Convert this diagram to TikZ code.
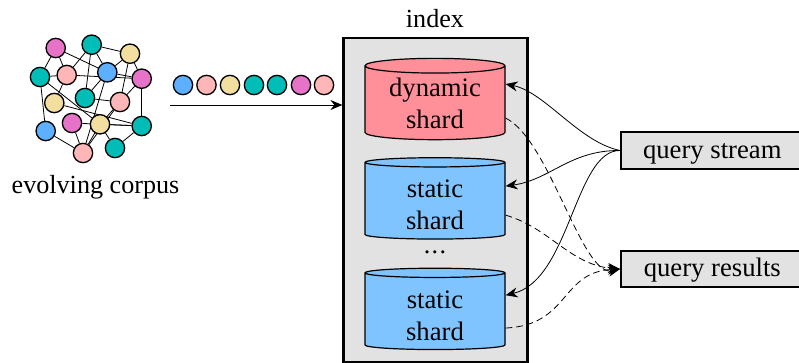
\documentclass[tikz,border=0pt]{standalone}
\usepackage{fontspec}
\setmainfont{Liberation Serif}
\usetikzlibrary{arrows.meta,shapes.geometric,backgrounds}
\definecolor{dotblue}{HTML}{5CB0FF}
\definecolor{dotrose}{HTML}{FFB6B6}
\definecolor{dotyellow}{HTML}{F2DFA0}
\definecolor{dotteal}{HTML}{00BDB8}
\definecolor{dotpink}{HTML}{E673C8}
\definecolor{shardred}{HTML}{FF909A}
\definecolor{shardblue}{HTML}{80C4FF}
\definecolor{panelgray}{HTML}{E2E2E2}
\tikzset{
  dot/.style={circle, draw, line width=1pt, minimum size=14.5pt, inner sep=0pt},
  shard/.style={cylinder, shape border rotate=90, aspect=0.16, draw, line width=0.9pt,
    minimum width=105pt, minimum height=61pt, inner sep=0pt, cylinder uses custom fill,
    align=center, font=\fontsize{20}{24}\selectfont},
  label/.style={font=\fontsize{19.6}{24}\selectfont},
  sidebox/.style={draw, line width=1.4pt, fill=panelgray, minimum width=137pt, minimum height=27.5pt,
    inner sep=0pt, text height=16pt, text depth=4.3pt, font=\fontsize{20}{24}\selectfont},
  flow/.style={-{Stealth[length=9pt,width=7.5pt]}, line width=0.6pt},
  answer/.style={flow, dash pattern=on 5pt off 3pt}
}
\begin{document}
\begin{tikzpicture}[x=0.75pt,y=-0.75pt]
  \useasboundingbox (0,0) rectangle (799,363);
  \node [dot, fill=dotpink] (a) at (55.7,48) {};
  \node [dot, fill=dotteal] (b) at (91.7,44.7) {};
  \node [dot, fill=dotyellow] (c) at (130,53.7) {};
  \node [dot, fill=dotteal] (d) at (40,77) {};
  \node [dot, fill=dotrose] (e) at (66.7,75) {};
  \node [dot, fill=dotblue] (f) at (107.3,72.3) {};
  \node [dot, fill=dotpink] (g) at (141.7,78.7) {};
  \node [dot, fill=dotyellow] (h) at (54.3,103) {};
  \node [dot, fill=dotteal] (i) at (85,98) {};
  \node [dot, fill=dotrose] (j) at (120,102) {};
  \node [dot, fill=dotpink] (k) at (72,123) {};
  \node [dot, fill=dotyellow] (l) at (100,124.3) {};
  \node [dot, fill=dotteal] (m) at (141.7,126) {};
  \node [dot, fill=dotblue] (n) at (45.7,131) {};
  \node [dot, fill=dotrose] (o) at (83,153) {};
  \node [dot, fill=dotteal] (p) at (115,148) {};
  \begin{scope}[on background layer]
    \foreach \from/\to in {a/d,a/e,a/f,b/e,b/f,b/i,b/c,c/f,c/j,c/g,d/e,e/g,f/g,e/h,d/n,d/l,f/i,f/o,
      g/j,g/m,h/m,i/j,j/l,k/m,k/o,l/m,l/o,l/p,m/p,n/o,j/o}
      \draw [line width=0.6pt] (\from) -- (\to);
  \end{scope}
  \node [label] (corpus) at (95.5,187) {evolving corpus};
  \node [dot, fill=dotblue] (s1) at (183,85) {};
  \node [dot, fill=dotrose] (s2) at (206.5,85) {};
  \node [dot, fill=dotyellow] (s3) at (230,85) {};
  \node [dot, fill=dotteal] (s4) at (254,85) {};
  \node [dot, fill=dotteal] (s5) at (277,85) {};
  \node [dot, fill=dotpink] (s6) at (301,85) {};
  \node [dot, fill=dotrose] (s7) at (324,85) {};
  \node [draw, line width=1.6pt, fill=panelgray, minimum width=138pt, minimum height=243pt, inner sep=0pt] (index) at (435.5,200) {};
  \node [label] (title) at (435,19) {index};
  \node [shard, fill=shardred, cylinder body fill=shardred, cylinder end fill=shardred] (dyn) at (435,103) {dynamic\\shard};
  \node [shard, fill=shardblue, cylinder body fill=shardblue, cylinder end fill=shardblue] (st1) at (435,201) {\rule{0pt}{19.5pt}static\\shard};
  \node [label] (dots) at (435,252) {.\kern1pt.\kern1pt.};
  \node [shard, fill=shardblue, cylinder body fill=shardblue, cylinder end fill=shardblue] (st2) at (435,311.5) {\rule{0pt}{19.5pt}static\\shard};
  \node [sidebox, anchor=west] (stream) at (620,150.5) {query stream};
  \node [sidebox, anchor=west] (results) at (620,269) {query results};
  \coordinate (feedin) at (170,105);
  \draw [flow] (feedin) -- (index.west |- feedin);
  \draw [flow] (stream.west) .. controls (579,142) and (545,92) .. ([yshift=14.2pt]dyn.east);
  \draw [flow] (stream.west) .. controls (570,150) and (550,180) .. ([yshift=11.2pt]st1.east);
  \draw [flow] (stream.west) .. controls (575,150) and (570,280) .. ([yshift=12.2pt]st2.east);
  \draw [answer] ([yshift=-11.3pt]dyn.east) .. controls (550,140) and (582,278) .. (results.west);
  \draw [answer] ([yshift=-10.6pt]st1.east) .. controls (550,228) and (570,265) .. (results.west);
  \draw [answer] ([yshift=-12.4pt]st2.east) .. controls (570,325) and (560,272) .. (results.west);
\end{tikzpicture}
\end{document}
